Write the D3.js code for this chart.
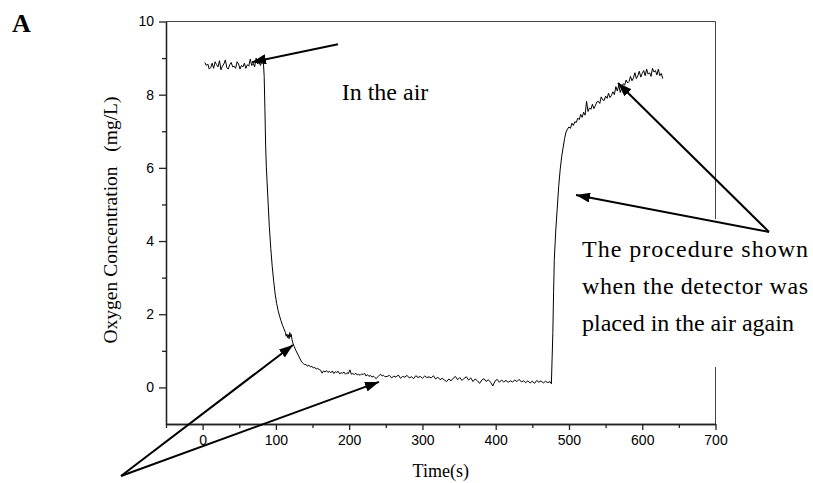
<!DOCTYPE html>
<html>
<head>
<meta charset="utf-8">
<script src="https://cdn.jsdelivr.net/npm/d3@7"></script>
<style>
  body { margin: 0; background: #fff; }
  svg { display: block; }
  .axis text { font-family: "Liberation Sans", Arial, sans-serif; font-size: 14px; fill: #000; }
  .axis path, .axis line { stroke: #222; stroke-width: 1.3; }
  .serif { font-family: "Liberation Serif", "Times New Roman", serif; fill: #000; }
</style>
</head>
<body>
<div id="chart"></div>
<script>
const timeS = [
  3, 5, 7, 9, 11, 13, 15, 17, 19, 21, 23, 25, 27, 29, 31, 33, 35, 37, 39, 41,
  43, 45, 47, 49, 51, 53, 55, 57, 59, 61, 63, 65, 67, 69, 71, 73, 75, 77, 79, 81, 83,
  84, 85, 86, 87, 89, 91, 93, 95, 97, 99, 101, 103, 105, 107, 109, 111, 113,
  114, 115, 116, 117, 118, 119, 120, 121, 122, 123, 125, 127, 129, 131, 133, 135,
  137, 139, 141, 143, 145, 147, 149, 151, 153, 155, 157, 159, 161, 163, 165, 167,
  169, 171, 173, 175, 177, 179, 181, 183, 185, 187, 189, 191, 193, 195, 197, 199,
  201, 203, 205, 207, 209, 211, 213, 215, 217, 219, 221, 223, 225, 227, 229, 231,
  233, 235, 237, 239, 241, 243, 245, 247, 249,
  252, 255, 258, 261, 264, 267, 270, 273, 276, 279, 282, 285, 288, 291, 294, 297,
  300, 303, 306, 309, 312, 315, 318, 321, 324, 327, 330, 333, 336, 339, 342, 345,
  348, 351, 354, 357, 360, 363, 366, 369, 372, 375, 378, 381, 384, 387, 390, 393,
  396, 399, 402, 405, 408, 411, 414, 417, 420, 423, 426, 429, 432, 435, 438, 441,
  444, 447, 450, 453, 456, 459, 462, 465, 468, 471, 474, 476,
  478, 479, 480, 482, 484, 486, 488, 490, 492, 494, 496, 498, 500, 502, 504, 506,
  508, 510, 512, 514, 516, 518, 520, 522, 524, 526, 528, 530, 532, 534, 536, 538,
  540, 542, 544, 546, 548, 550, 552, 554, 556, 558, 560, 562, 564, 566, 568, 570,
  572, 574, 576, 578, 580, 582, 584, 586, 588, 590, 592, 594, 596, 598, 600, 602,
  604, 606, 608, 610, 612, 614, 616, 618, 620, 622, 624, 626, 628
];
const oxygenMgL = [
  8.88, 8.80, 8.84, 8.70, 8.74, 8.86, 8.72, 8.90, 8.82, 8.76, 8.93, 8.68, 8.78, 8.84, 8.95, 8.74, 8.70, 8.82, 8.88, 8.76,
  8.78, 8.72, 8.90, 8.84, 8.70, 8.80, 8.76, 8.86, 8.72, 8.82, 8.78, 8.97, 8.80, 8.86, 8.76, 9.00, 8.84, 8.88, 8.80, 8.94, 8.86,
  8.50, 7.60, 6.60, 6.00, 5.20, 4.40, 3.80, 3.30, 2.90, 2.55, 2.30, 2.10, 1.95, 1.82, 1.70, 1.60, 1.50,
  1.40, 1.46, 1.36, 1.44, 1.33, 1.50, 1.38, 1.45, 1.30, 1.22, 1.12, 1.02, 0.94, 0.86, 0.78, 0.70,
  0.66, 0.62, 0.63, 0.58, 0.61, 0.56, 0.58, 0.53, 0.55, 0.50, 0.52, 0.49, 0.47, 0.39, 0.45, 0.42,
  0.46, 0.41, 0.44, 0.40, 0.45, 0.38, 0.43, 0.41, 0.44, 0.37, 0.40, 0.39, 0.42, 0.36, 0.40, 0.38,
  0.48, 0.36, 0.38, 0.35, 0.39, 0.34, 0.36, 0.33, 0.37, 0.35, 0.39, 0.31, 0.35, 0.30, 0.33, 0.28,
  0.31, 0.27, 0.24, 0.29, 0.33, 0.36, 0.31, 0.33, 0.29,
  0.30, 0.33, 0.26, 0.31, 0.28, 0.34, 0.25, 0.30, 0.28, 0.33, 0.26, 0.29, 0.24, 0.32, 0.27, 0.30,
  0.25, 0.31, 0.27, 0.29, 0.26, 0.32, 0.23, 0.28, 0.21, 0.25, 0.20, 0.16, 0.23, 0.18, 0.25, 0.30,
  0.21, 0.27, 0.19, 0.25, 0.29, 0.20, 0.26, 0.16, 0.23, 0.18, 0.11, 0.20, 0.24, 0.16, 0.21, 0.14,
  0.04, 0.17, 0.22, 0.14, 0.20, 0.15, 0.19, 0.14, 0.18, 0.15, 0.20, 0.16, 0.22, 0.15, 0.18, 0.13,
  0.18, 0.12, 0.17, 0.11, 0.19, 0.14, 0.18, 0.12, 0.17, 0.13, 0.16, 0.10,
  1.50, 2.60, 3.50, 4.30, 4.90, 5.50, 5.95, 6.30, 6.55, 6.80, 6.98, 7.06, 7.12, 7.08, 7.22, 7.16,
  7.26, 7.24, 7.36, 7.32, 7.46, 7.38, 7.52, 7.44, 7.82, 7.54, 7.64, 7.60, 7.74, 7.62, 7.70, 7.80,
  7.82, 7.76, 7.94, 7.86, 7.84, 7.96, 7.90, 8.04, 7.92, 7.98, 8.08, 8.00, 8.22, 8.10, 8.26, 8.06,
  8.18, 8.30, 8.26, 8.40, 8.32, 8.36, 8.50, 8.38, 8.46, 8.60, 8.44, 8.52, 8.64, 8.48, 8.58, 8.66,
  8.52, 8.70, 8.56, 8.60, 8.50, 8.72, 8.62, 8.66, 8.54, 8.70, 8.52, 8.58, 8.44
];

const xMajorTicks = [0, 100, 200, 300, 400, 500, 600, 700];
const xMinorTicks = [-50, 50, 150, 250, 350, 450, 550, 650];
const yMajorTicks = [0, 2, 4, 6, 8, 10];
const yMinorTicks = [1, 3, 5, 7, 9];

// Beschriftungen und Pfeile (in Datenkoordinaten)
const panelLabel = "A";
const xTitle = "Time(s)";
const yTitle = "Oxygen Concentration\u00a0\u00a0\u00a0(mg/L)";
const airLabel = "In the air";
const againLines = ["The procedure shown", "when the detector was", "placed in the air again"];
// [von t, von c, nach t, nach c]
const arrows = [
  [184.7, 9.38, 67.4, 8.89],
  [773, 4.25, 566.9, 8.32],
  [773, 4.25, 509.6, 5.26],
  [-111.4, -2.42, 123.3, 1.16],
  [-111.4, -2.42, 240.7, 0.15]
];

const width = 813, height = 483;
const mLeft = 166, mRight = 715.5, mTop = 21.5, mBottom = 424;

const svg = d3.select("#chart").append("svg")
  .attr("width", width).attr("height", height);

const x = d3.scaleLinear().domain([-50, 700]).range([mLeft, mRight]);
const y = d3.scaleLinear().domain([-1, 10]).range([mBottom, mTop]);

// Rahmen oben / rechts
svg.append("path")
  .attr("d", `M${mLeft},${mTop}H${mRight}V${mBottom}`)
  .attr("fill", "none").attr("stroke", "#444").attr("stroke-width", 1);

// Achsen
svg.append("g").attr("class", "axis")
  .attr("transform", `translate(0,${mBottom})`)
  .call(d3.axisBottom(x).tickValues(xMinorTicks).tickSize(4).tickSizeOuter(0).tickFormat(""));
svg.append("g").attr("class", "axis")
  .attr("transform", `translate(0,${mBottom})`)
  .call(d3.axisBottom(x).tickValues(xMajorTicks).tickSize(6).tickSizeOuter(0).tickPadding(5));

svg.append("g").attr("class", "axis")
  .attr("transform", `translate(${mLeft},0)`)
  .call(d3.axisLeft(y).tickValues(yMinorTicks).tickSize(4).tickSizeOuter(0).tickFormat(""));
svg.append("g").attr("class", "axis")
  .attr("transform", `translate(${mLeft},0)`)
  .call(d3.axisLeft(y).tickValues(yMajorTicks).tickSize(7).tickSizeOuter(0).tickPadding(5));

// Messkurve
const line = d3.line()
  .x(function(d, i) { return x(timeS[i]); })
  .y(function(d) { return y(d); });

svg.append("path")
  .datum(oxygenMgL)
  .attr("d", line)
  .attr("fill", "none")
  .attr("stroke", "#000")
  .attr("stroke-width", 1);

// Achsentitel
svg.append("text").attr("class", "serif")
  .attr("x", (mLeft + mRight) / 2).attr("y", 477)
  .attr("text-anchor", "middle").attr("font-size", 18)
  .text(xTitle);

svg.append("text").attr("class", "serif")
  .attr("transform", "translate(117,220) rotate(-90)")
  .attr("text-anchor", "middle").attr("font-size", 19.5)
  .text(yTitle);

svg.append("text").attr("class", "serif")
  .attr("x", 12).attr("y", 32)
  .attr("font-size", 26).attr("font-weight", "bold")
  .text(panelLabel);

// Textfeld rechts (weiß hinterlegt, verdeckt den Rahmen)
svg.append("rect")
  .attr("x", 578).attr("y", 219).attr("width", 235).attr("height", 148)
  .attr("fill", "#fff");

svg.append("text").attr("class", "serif")
  .attr("x", x(189.8)).attr("y", y(7.85))
  .attr("font-size", 24)
  .text(airLabel);

svg.selectAll(".again")
  .data(againLines)
  .enter().append("text")
  .attr("class", "serif again")
  .attr("x", x(517.8))
  .attr("y", function(d, i) { return 257 + i * 37; })
  .attr("font-size", 24)
  .attr("textLength", function(d, i) { return i < 2 ? 226 : null; })
  .attr("lengthAdjust", "spacing")
  .text(function(d) { return d; });

// Pfeile
svg.append("defs").append("marker")
  .attr("id", "head")
  .attr("viewBox", "0 0 14 10")
  .attr("refX", 14).attr("refY", 5)
  .attr("markerWidth", 14).attr("markerHeight", 10)
  .attr("markerUnits", "userSpaceOnUse")
  .attr("orient", "auto")
  .append("path")
  .attr("d", "M0,0L14,5L0,10Z")
  .attr("fill", "#000");

svg.selectAll(".arrow")
  .data(arrows)
  .enter().append("line")
  .attr("class", "arrow")
  .attr("x1", function(d) { return x(d[0]); })
  .attr("y1", function(d) { return y(d[1]); })
  .attr("x2", function(d) { return x(d[2]); })
  .attr("y2", function(d) { return y(d[3]); })
  .attr("stroke", "#000")
  .attr("stroke-width", 2)
  .attr("marker-end", "url(#head)");
</script>
</body>
</html>
